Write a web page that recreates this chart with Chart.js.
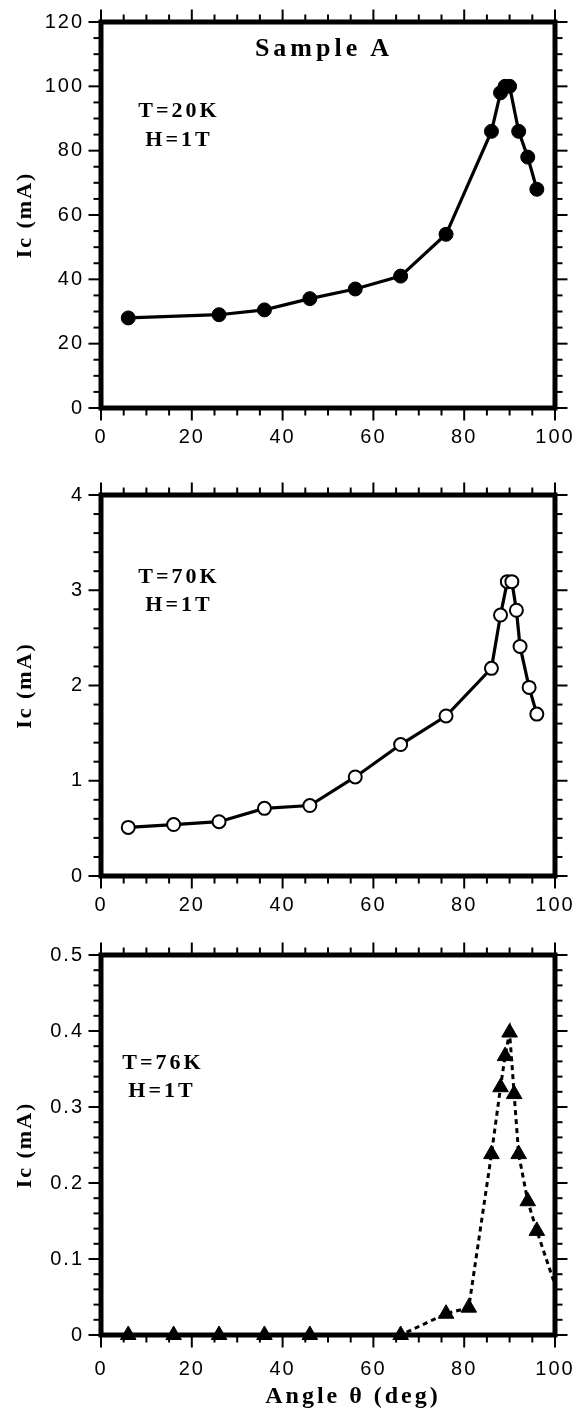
<!DOCTYPE html>
<html><head><meta charset="utf-8">
<script src="https://cdn.jsdelivr.net/npm/chart.js@4.4.1/dist/chart.umd.min.js"></script>
<style>
html,body{margin:0;padding:0;background:#fff;}
body{width:580px;height:1409px;position:relative;overflow:hidden;}
canvas{position:absolute;left:0;}
.lbl{position:absolute;font-family:"Liberation Serif","Times New Roman",serif;font-weight:bold;color:#000;white-space:nowrap;transform:translate(-50%,-50%);line-height:1;}
</style></head><body>
<canvas id="c1" width="580" height="460" style="top:0px;width:580px;height:460px"></canvas>
<canvas id="c2" width="580" height="460" style="top:470px;width:580px;height:460px"></canvas>
<canvas id="c3" width="580" height="479" style="top:930px;width:580px;height:479px"></canvas>

<div class="lbl" style="left:324px;top:48px;font-size:26px;letter-spacing:4px;">Sample A</div>
<div class="lbl" style="left:179px;top:110px;font-size:22px;letter-spacing:3px;">T=20K</div>
<div class="lbl" style="left:179px;top:139px;font-size:22px;letter-spacing:3px;">H=1T</div>
<div class="lbl" style="left:179px;top:576px;font-size:22px;letter-spacing:3px;">T=70K</div>
<div class="lbl" style="left:179px;top:604px;font-size:22px;letter-spacing:3px;">H=1T</div>
<div class="lbl" style="left:163px;top:1062px;font-size:22px;letter-spacing:3px;">T=76K</div>
<div class="lbl" style="left:162px;top:1090px;font-size:22px;letter-spacing:3px;">H=1T</div>
<div class="lbl" style="left:353px;top:1395px;font-size:24px;letter-spacing:3px;">Angle θ (deg)</div>

<script>
// ---- data ----
const xTickValues = [0, 20, 40, 60, 80, 100];

// Panel 1: T=20K, H=1T (filled circles, solid line)
const angle20K = [6, 26, 36, 46, 56, 66, 76, 86, 88, 89, 90, 92, 94, 96];
const ic20K    = [28, 29, 30.5, 34, 37, 41, 54, 86, 98, 100, 100, 86, 78, 68];
const yTicks20K = [0, 20, 40, 60, 80, 100, 120];

// Panel 2: T=70K, H=1T (open circles, solid line)
const angle70K = [6, 16, 26, 36, 46, 56, 66, 76, 86, 88, 89.5, 90.5, 91.5, 92.3, 94.3, 96];
const ic70K    = [0.51, 0.54, 0.57, 0.71, 0.74, 1.04, 1.38, 1.68, 2.18, 2.74, 3.09, 3.09, 2.79, 2.41, 1.98, 1.70];
const yTicks70K = [0, 1, 2, 3, 4];

// Panel 3: T=76K, H=1T (filled triangles, dashed line)
const angle76K = [6, 16, 26, 36, 46, 66, 76, 81, 86, 88, 89, 90, 91, 92, 94, 96, 100];
const ic76K    = [0, 0, 0, 0, 0, 0, 0.028, 0.036, 0.238, 0.326, 0.367, 0.398, 0.317, 0.238, 0.176, 0.137, 0.066];
const yTicks76K = [0, 0.1, 0.2, 0.3, 0.4, 0.5];

// ---- plugin: thick frame + outward major/minor ticks on all four sides ----
const frameTicks = {
  id: 'frameTicks',
  beforeLayout(chart){ chart.ctx.letterSpacing = '2px'; },
  beforeDraw(chart){ chart.ctx.letterSpacing = '2px'; },
  beforeDatasetsDraw(chart, args, o){
    const ctx = chart.ctx, a = chart.chartArea, xs = chart.scales.x, ys = chart.scales.y;
    const fw = 5, half = fw / 2;
    ctx.save();
    ctx.strokeStyle = '#000';
    ctx.lineWidth = fw;
    ctx.strokeRect(a.left, a.top, a.right - a.left, a.bottom - a.top);
    ctx.lineWidth = 2;
    const line = (x1, y1, x2, y2) => { ctx.beginPath(); ctx.moveTo(x1, y1); ctx.lineTo(x2, y2); ctx.stroke(); };
    const each = (scale, minor, major, cb) => {
      const n = Math.round((scale.max - scale.min) / minor);
      for (let i = 0; i <= n; i++) {
        const v = scale.min + i * minor;
        const r = v / major;
        const isMaj = Math.abs(r - Math.round(r)) < 1e-6;
        cb(scale.getPixelForValue(v), isMaj ? 10 : 5);
      }
    };
    each(xs, o.xMinor, o.xMajor, (p, len) => {
      line(p, a.bottom, p, a.bottom + half + len);
      line(p, a.top, p, a.top - half - len);
    });
    each(ys, o.yMinor, o.yMajor, (p, len) => {
      line(a.left, p, a.left - half - len, p);
      line(a.right, p, a.right + half + len, p);
    });
    ctx.restore();
  }
};

function makePanel(id, xs, ys, yTicks, dsStyle, tickCfg, padTop, xHeight, xPad){
  return new Chart(document.getElementById(id), {
    type: 'line',
    data: {
      datasets: [Object.assign({
        data: xs.map((v, i) => ({x: v, y: ys[i]})),
        borderColor: '#000',
        pointBorderColor: '#000',
        tension: 0,
        clip: false
      }, dsStyle)]
    },
    options: {
      responsive: false,
      animation: false,
      devicePixelRatio: 1,
      layout: {padding: {top: padTop, right: 25, left: 0, bottom: 0}},
      plugins: {legend: {display: false}, tooltip: {enabled: false}, frameTicks: tickCfg},
      scales: {
        x: {
          type: 'linear', min: 0, max: 100,
          afterBuildTicks: s => { s.ticks = xTickValues.map(v => ({value: v})); },
          ticks: {color: '#000', padding: xPad, autoSkip: false, maxRotation: 0,
                  font: {family: '"Liberation Sans", Arial, sans-serif', size: 20}},
          grid: {display: false, drawTicks: false},
          border: {display: false},
          afterFit: s => { s.height = xHeight; s.paddingLeft = 0; s.paddingRight = 0; s.paddingTop = 0; s.paddingBottom = 0; }
        },
        y: {
          type: 'linear', min: yTicks[0], max: yTicks[yTicks.length - 1],
          afterBuildTicks: s => { s.ticks = yTicks.map(v => ({value: v})); },
          ticks: {color: '#000', padding: 17, autoSkip: false,
                  font: {family: '"Liberation Sans", Arial, sans-serif', size: 20}},
          grid: {display: false, drawTicks: false},
          border: {display: false},
          title: {display: true, text: 'Ic (mA)', color: '#000',
                  font: {family: '"Liberation Serif", "Times New Roman", serif', size: 22, weight: 'bold'},
                  padding: {top: 12, bottom: 0}},
          afterFit: s => { s.width = 101; s.paddingLeft = 0; s.paddingRight = 0; s.paddingTop = 0; s.paddingBottom = 0; }
        }
      }
    },
    plugins: [frameTicks]
  });
}

makePanel('c1', angle20K, ic20K, yTicks20K,
  {borderWidth: 3.2, pointRadius: 7, pointBackgroundColor: '#000', pointBorderWidth: 1},
  {xMinor: 5, xMajor: 20, yMinor: 5, yMajor: 20}, 22, 52, 17);

makePanel('c2', angle70K, ic70K, yTicks70K,
  {borderWidth: 3.2, pointRadius: 6.5, pointBackgroundColor: '#fff', pointBorderWidth: 2},
  {xMinor: 5, xMajor: 20, yMinor: 0.2, yMajor: 1}, 25, 54, 17);

makePanel('c3', angle76K, ic76K, yTicks76K,
  {borderWidth: 3, borderDash: [5, 4], pointStyle: 'triangle',
   pointRadius: ic76K.map((v, i) => i === ic76K.length - 1 ? 0 : 9),
   pointBackgroundColor: '#000', pointBorderWidth: 1},
  {xMinor: 5, xMajor: 20, yMinor: 0.02, yMajor: 0.1}, 25, 74, 22);
</script>
</body></html>
